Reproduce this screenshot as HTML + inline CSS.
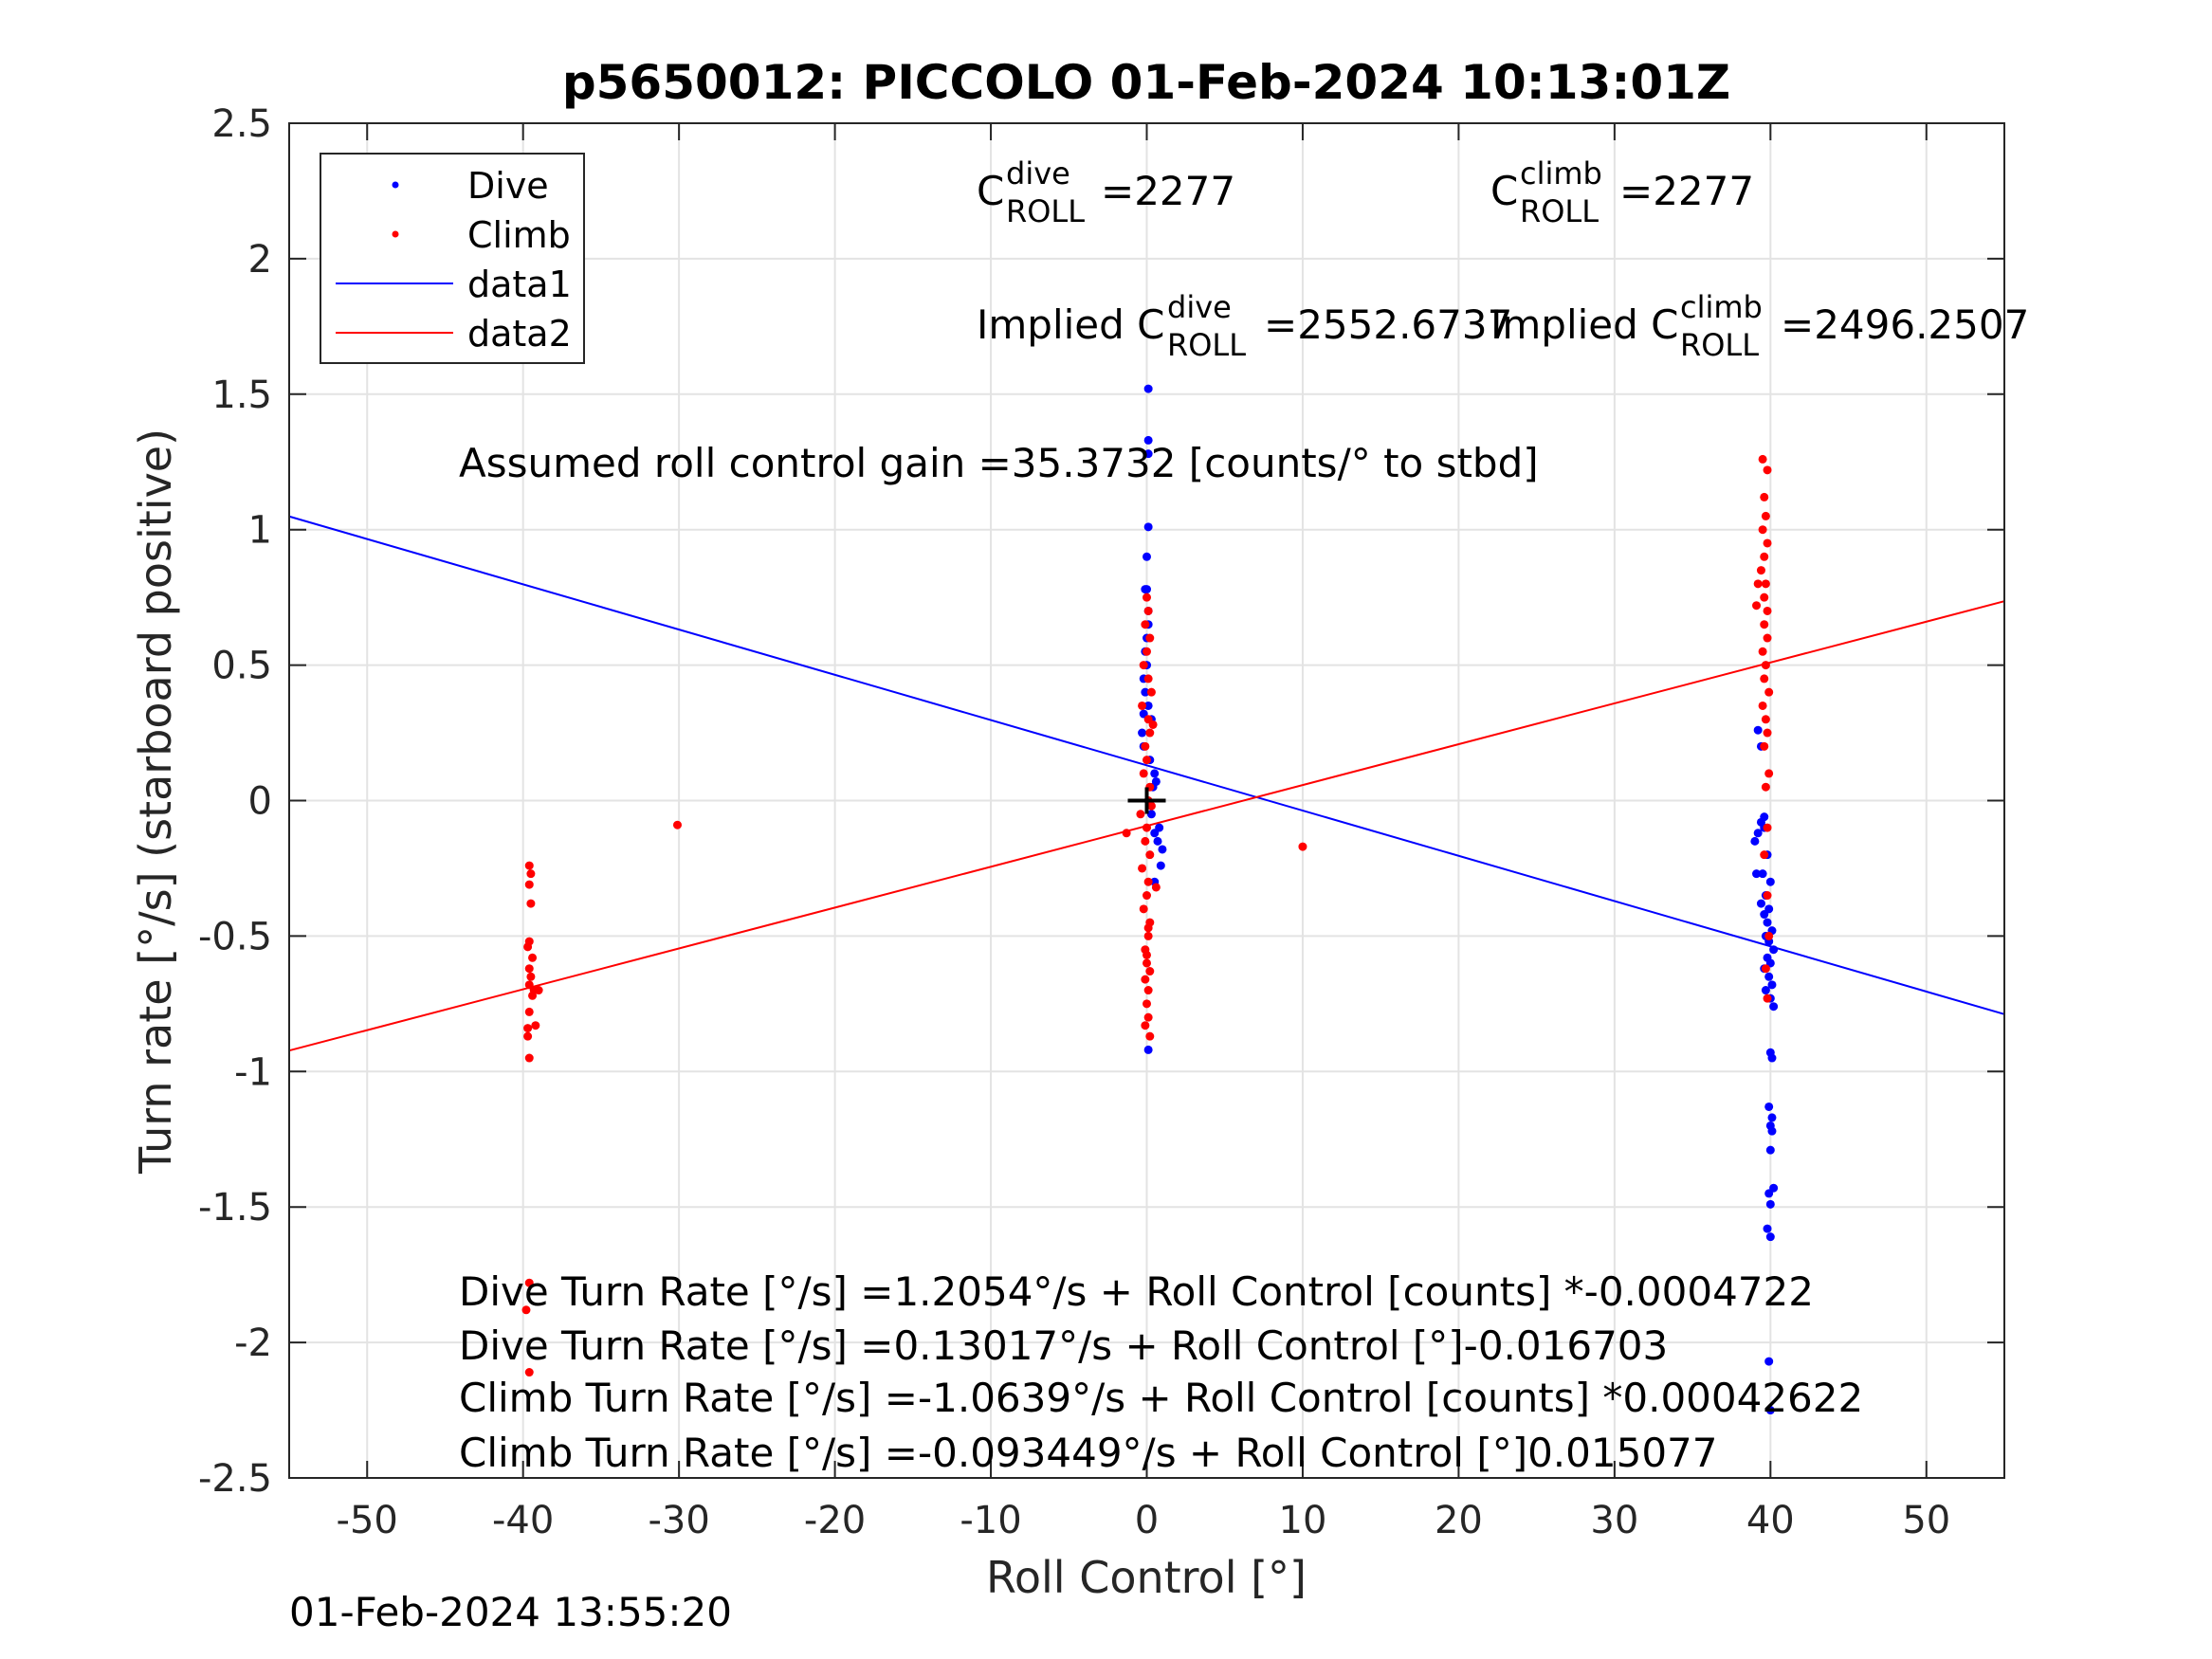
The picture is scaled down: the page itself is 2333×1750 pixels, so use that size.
<!DOCTYPE html>
<html><head><meta charset="utf-8"><style>
html,body{margin:0;padding:0;background:#fff;}
svg{display:block;font-family:"DejaVu Sans","Liberation Sans",sans-serif;}
</style></head><body>
<svg id="chart" width="2333" height="1750" viewBox="0 0 2333 1750" xmlns="http://www.w3.org/2000/svg">
<rect width="2333" height="1750" fill="#fff"/>
<g id="grid"></g>
<g id="lines"></g>
<g id="pts"></g>
<g id="axes"></g>
<text x="1209" y="104" font-size="50" font-weight="bold" text-anchor="middle">p5650012: PICCOLO 01-Feb-2024 10:13:01Z</text>
<text x="1209" y="1680" font-size="46" text-anchor="middle" fill="#262626">Roll Control [°]</text>
<text transform="translate(180,845) rotate(-90)" font-size="46" text-anchor="middle" fill="#262626">Turn rate [°/s] (starboard positive)</text>
<text x="305" y="1715" font-size="42">01-Feb-2024 13:55:20</text>
<g font-size="42">
<g>
<text x="1030" y="216">C</text><text x="1061" y="194" font-size="32">dive</text><text x="1061" y="234" font-size="32">ROLL</text><text x="1161" y="216">=2277</text></g>
<g>
<text x="1572" y="216">C</text><text x="1603" y="194" font-size="32">climb</text><text x="1603" y="234" font-size="32">ROLL</text><text x="1708" y="216">=2277</text></g>
<g>
<text x="1030" y="357">Implied C</text><text x="1231" y="335" font-size="32">dive</text><text x="1231" y="375" font-size="32">ROLL</text><text x="1333" y="357">=2552.6737</text></g>
<g>
<text x="1572" y="357">Implied C</text><text x="1772" y="335" font-size="32">climb</text><text x="1772" y="375" font-size="32">ROLL</text><text x="1878" y="357">=2496.2507</text></g>
<text x="484" y="503">Assumed roll control gain =35.3732 [counts/° to stbd]</text>
<text x="484" y="1377">Dive Turn Rate [°/s] =1.2054°/s + Roll Control [counts] *-0.0004722</text>
<text x="484" y="1434">Dive Turn Rate [°/s] =0.13017°/s + Roll Control [°]-0.016703</text>
<text x="484" y="1489">Climb Turn Rate [°/s] =-1.0639°/s + Roll Control [counts] *0.00042622</text>
<text x="484" y="1547">Climb Turn Rate [°/s] =-0.093449°/s + Roll Control [°]0.015077</text>
</g>
<g>
<rect x="338" y="162" width="278" height="221" fill="#fff" stroke="#262626" stroke-width="2"/>
<circle cx="417" cy="195" r="3.5" fill="#00f"/>
<text x="493" y="209" font-size="38">Dive</text>
<circle cx="417" cy="247" r="3.5" fill="#f00"/>
<text x="493" y="261" font-size="38">Climb</text>
<line x1="354" x2="478" y1="299" y2="299" stroke="#00f" stroke-width="2"/>
<text x="493" y="313" font-size="38">data1</text>
<line x1="354" x2="478" y1="351" y2="351" stroke="#f00" stroke-width="2"/>
<text x="493" y="365" font-size="38">data2</text>
</g>
</svg>
<script>
const xTicks=[-50,-40,-30,-20,-10,0,10,20,30,40,50];
const yTicks=[-2.5,-2,-1.5,-1,-0.5,0,0.5,1,1.5,2,2.5];
const yTickLabels=["-2.5","-2","-1.5","-1","-0.5","0","0.5","1","1.5","2","2.5"];
const diveFit=[0.13017,-0.016703];
const climbFit=[-0.093449,0.015077];
const diveX=[0.1,0.1,0.1,0.1,0,-0.1,0,0.1,0.1,0,-0.1,0,-0.2,-0.1,0.1,-0.2,0.3,-0.3,-0.2,0.2,0.5,0.6,0.4,0.3,0.8,0.5,0.7,1,0.9,0.5,0.1,
39.2,39.4,39.6,39.4,39,39.2,39.6,39.8,39.5,39.1,40,39.7,39.4,39.9,39.6,39.8,40.1,39.7,39.9,40.2,39.8,40,39.6,39.9,40.1,39.7,40,40.2,40,40.1,39.9,40.1,40,40.1,40,40.2,39.9,40,39.8,40,39.9,40];
const diveY=[1.52,1.33,1.28,1.01,0.9,0.78,0.78,0.7,0.65,0.6,0.55,0.5,0.45,0.4,0.35,0.32,0.3,0.25,0.2,0.15,0.1,0.07,0.05,-0.05,-0.1,-0.12,-0.15,-0.18,-0.24,-0.3,-0.92,
0.26,0.2,-0.06,-0.08,-0.15,-0.12,-0.1,-0.2,-0.27,-0.27,-0.3,-0.35,-0.38,-0.4,-0.42,-0.45,-0.48,-0.5,-0.52,-0.55,-0.58,-0.6,-0.62,-0.65,-0.68,-0.7,-0.73,-0.76,-0.93,-0.95,-1.13,-1.17,-1.2,-1.22,-1.29,-1.43,-1.45,-1.49,-1.58,-1.61,-2.07,-2.25];
const climbX=[-39.6,-39.5,-39.6,-39.5,-39.6,-39.7,-39.4,-39.6,-39.5,-39.3,-39.6,-39.4,-39.6,-39,-39.7,-39.2,-39.7,-39.6,-39.6,-39.8,-39.6,-30.1,10,-1.3,
0,0.1,-0.1,0.2,0,-0.2,0.1,0.3,-0.3,0.1,0.2,-0.1,0.4,0,-0.2,0.2,0.1,-0.4,0.3,0,-0.1,0.2,-0.3,0.1,0.6,0,-0.2,0.2,0.1,-0.1,0,0.2,-0.1,0.1,0,0.1,-0.1,0.2,0,0.1,
39.5,39.8,39.6,39.7,39.5,39.8,39.6,39.4,39.7,39.6,39.8,39.2,39.1,39.6,39.8,39.5,39.7,39.6,39.9,39.5,39.7,39.8,39.6,39.9,39.7,39.8,39.6,39.8,39.9,39.7,39.8];
const climbY=[-0.24,-0.27,-0.31,-0.38,-0.52,-0.54,-0.58,-0.62,-0.65,-0.7,-0.68,-0.72,-0.78,-0.7,-0.84,-0.83,-0.87,-0.95,-1.78,-1.88,-2.11,-0.09,-0.17,-0.12,
0.75,0.7,0.65,0.6,0.55,0.5,0.45,0.4,0.35,0.3,0.25,0.2,0.28,0.15,0.1,0.05,0,-0.05,-0.02,-0.1,-0.15,-0.2,-0.25,-0.3,-0.32,-0.35,-0.4,-0.45,-0.5,-0.55,-0.6,-0.63,-0.66,-0.7,-0.75,-0.8,-0.83,-0.87,-0.57,-0.47,
1.26,1.22,1.12,1.05,1.0,0.95,0.9,0.85,0.8,0.75,0.7,0.8,0.72,0.65,0.6,0.55,0.5,0.45,0.4,0.35,0.3,0.25,0.2,0.1,0.05,-0.1,-0.2,-0.35,-0.5,-0.62,-0.73];
const L=305,R=2114,T=130,B=1559,X0=-55,X1=55,Y0=-2.5,Y1=2.5;
const sx=v=>L+(v-X0)/(X1-X0)*(R-L);
const sy=v=>B-(v-Y0)/(Y1-Y0)*(B-T);
const NS="http://www.w3.org/2000/svg";
function mk(t,a,p){const e=document.createElementNS(NS,t);for(const k in a)e.setAttribute(k,a[k]);p.appendChild(e);return e;}
const grid=document.getElementById('grid'),axes=document.getElementById('axes'),lines=document.getElementById('lines'),pts=document.getElementById('pts');
xTicks.forEach(v=>{const x=sx(v);
const g=mk('line',{x1:x,x2:x,y1:T,y2:B,stroke:'#e3e3e3','stroke-width':2},grid);


mk('line',{x1:x,x2:x,y1:B,y2:B-18,stroke:'#262626','stroke-width':2},axes);
mk('line',{x1:x,x2:x,y1:T,y2:T+18,stroke:'#262626','stroke-width':2},axes);
const t=mk('text',{x:x,y:B+58,'font-size':40,'text-anchor':'middle',fill:'#262626'},axes);t.textContent=String(v);

});
yTicks.forEach((v,i)=>{const y=sy(v);
const g=mk('line',{x1:L,x2:R,y1:y,y2:y,stroke:'#e3e3e3','stroke-width':2},grid);


mk('line',{x1:L,x2:L+18,y1:y,y2:y,stroke:'#262626','stroke-width':2},axes);
mk('line',{x1:R,x2:R-18,y1:y,y2:y,stroke:'#262626','stroke-width':2},axes);
const t=mk('text',{x:L-18,y:y+14,'font-size':40,'text-anchor':'end',fill:'#262626'},axes);t.textContent=yTickLabels[i];

});
const box=mk('rect',{x:L,y:T,width:R-L,height:B-T,fill:'none',stroke:'#262626','stroke-width':2},axes);


[[diveFit,'#00f','dive-fit-line'],[climbFit,'#f00','climb-fit-line']].forEach(([f,c,n])=>{
const l=mk('line',{x1:sx(X0),y1:sy(f[0]+f[1]*X0),x2:sx(X1),y2:sy(f[0]+f[1]*X1),stroke:c,'stroke-width':2},lines);

});
diveX.forEach((x,i)=>{const c=mk('circle',{cx:sx(x),cy:sy(diveY[i]),r:4.5,fill:'#00f'},pts);

});
climbX.forEach((x,i)=>{const c=mk('circle',{cx:sx(x),cy:sy(climbY[i]),r:4.5,fill:'#f00'},pts);

});
const cx=sx(0),cy=sy(0);
const h=mk('line',{x1:cx-20,x2:cx+20,y1:cy,y2:cy,stroke:'#000','stroke-width':4},pts);


const v=mk('line',{x1:cx,x2:cx,y1:cy-14,y2:cy+14,stroke:'#000','stroke-width':4},pts);


</script>
</body></html>
